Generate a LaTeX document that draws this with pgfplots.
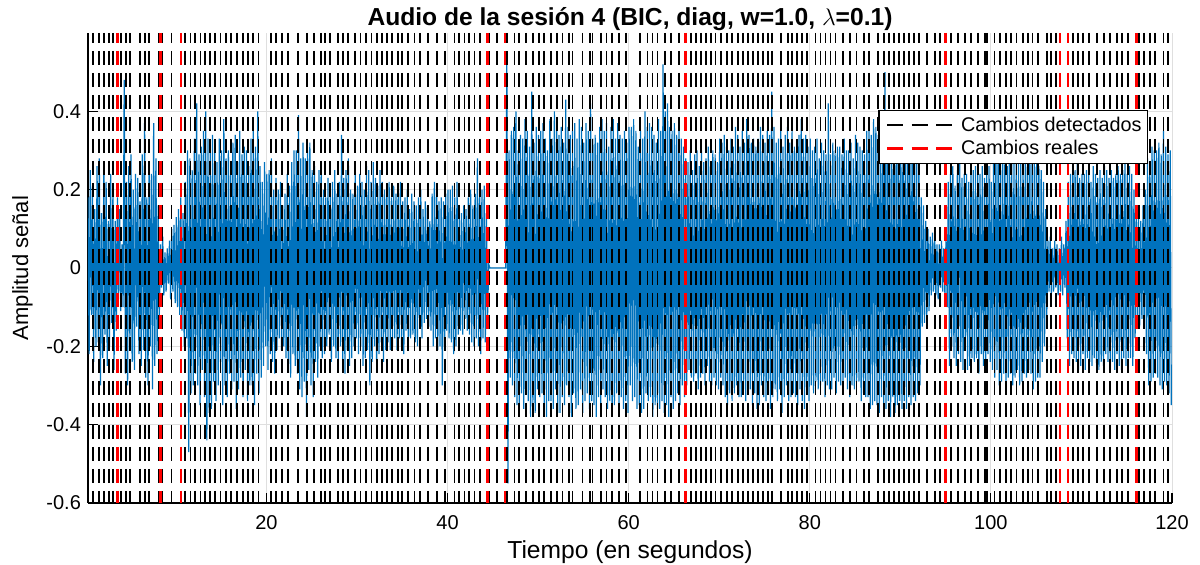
\documentclass[border=0pt]{standalone}
\usepackage{fontspec}
\setmainfont{Liberation Sans}
\usepackage{pgfplots}
\usepackage{pgfplotstable}
\pgfplotsset{compat=1.18}
\definecolor{mblue}{RGB}{0,114,189}
\definecolor{mgrid}{RGB}{223,223,223}
\pgfplotstableread[row sep=\\, header=false]{
0.18\\ -0.22\\ 0.25\\ -0.12\\ 0.21\\ -0.24\\ 0.15\\ -0.2\\
0.26\\ -0.19\\ 0.28\\ -0.3\\ 0.14\\ -0.23\\ 0.27\\ -0.17\\
0.22\\ -0.25\\ 0.12\\ -0.2\\ 0.24\\ -0.14\\ 0.19\\ -0.26\\
0.12\\ -0.16\\ 0.18\\ -0.08\\ 0.15\\ -0.11\\ 0.06\\ -0.1\\
0.48\\ -0.27\\ 0.22\\ -0.3\\ 0.26\\ -0.18\\ 0.29\\ -0.24\\
0.2\\ -0.26\\ 0.24\\ -0.15\\ 0.23\\ -0.22\\ 0.17\\ -0.25\\
0.29\\ -0.21\\ 0.37\\ -0.28\\ 0.18\\ -0.3\\ 0.26\\ -0.2\\
0.24\\ -0.31\\ 0.37\\ -0.25\\ 0.28\\ -0.22\\ 0.16\\ -0.12\\
0.06\\ -0.05\\ 0.08\\ -0.07\\ 0.04\\ -0.06\\ 0.05\\ -0.04\\
0.07\\ -0.08\\ 0.1\\ -0.06\\ 0.11\\ -0.09\\ 0.13\\ -0.1\\
0.15\\ -0.12\\ 0.18\\ -0.16\\ 0.14\\ -0.2\\ 0.22\\ -0.18\\
0.3\\ -0.47\\ 0.28\\ -0.32\\ 0.25\\ -0.3\\ 0.33\\ -0.27\\
0.42\\ -0.3\\ 0.29\\ -0.35\\ 0.31\\ -0.26\\ 0.35\\ -0.33\\
0.4\\ -0.44\\ 0.33\\ -0.37\\ 0.3\\ -0.36\\ 0.34\\ -0.29\\
0.31\\ -0.34\\ 0.27\\ -0.3\\ 0.33\\ -0.24\\ 0.3\\ -0.35\\
0.38\\ -0.3\\ 0.28\\ -0.33\\ 0.3\\ -0.27\\ 0.25\\ -0.31\\
0.32\\ -0.29\\ 0.34\\ -0.36\\ 0.27\\ -0.31\\ 0.35\\ -0.28\\
0.29\\ -0.33\\ 0.31\\ -0.26\\ 0.3\\ -0.34\\ 0.26\\ -0.3\\
0.33\\ -0.3\\ 0.36\\ -0.35\\ 0.31\\ -0.27\\ 0.4\\ -0.32\\
0.26\\ -0.28\\ 0.22\\ -0.25\\ 0.27\\ -0.2\\ 0.24\\ -0.26\\
0.25\\ -0.22\\ 0.28\\ -0.24\\ 0.2\\ -0.27\\ 0.23\\ -0.21\\
0.2\\ -0.18\\ 0.22\\ -0.21\\ 0.16\\ -0.2\\ 0.19\\ -0.23\\
0.24\\ -0.26\\ 0.21\\ -0.28\\ 0.27\\ -0.22\\ 0.3\\ -0.25\\
0.3\\ -0.27\\ 0.39\\ -0.31\\ 0.28\\ -0.33\\ 0.32\\ -0.29\\
0.28\\ -0.38\\ 0.3\\ -0.26\\ 0.32\\ -0.3\\ 0.25\\ -0.33\\
0.26\\ -0.24\\ 0.22\\ -0.28\\ 0.25\\ -0.2\\ 0.27\\ -0.23\\
0.2\\ -0.22\\ 0.18\\ -0.2\\ 0.23\\ -0.17\\ 0.21\\ -0.24\\
0.22\\ -0.2\\ 0.25\\ -0.23\\ 0.19\\ -0.24\\ 0.22\\ -0.2\\
0.34\\ -0.24\\ 0.23\\ -0.27\\ 0.25\\ -0.21\\ 0.28\\ -0.25\\
0.2\\ -0.23\\ 0.19\\ -0.2\\ 0.24\\ -0.18\\ 0.21\\ -0.22\\
0.24\\ -0.2\\ 0.22\\ -0.25\\ 0.2\\ -0.23\\ 0.26\\ -0.21\\
0.25\\ -0.3\\ 0.22\\ -0.24\\ 0.27\\ -0.2\\ 0.23\\ -0.26\\
0.21\\ -0.22\\ 0.25\\ -0.19\\ 0.22\\ -0.24\\ 0.2\\ -0.21\\
0.2\\ -0.19\\ 0.22\\ -0.21\\ 0.18\\ -0.2\\ 0.21\\ -0.18\\
0.19\\ -0.21\\ 0.2\\ -0.18\\ 0.22\\ -0.2\\ 0.17\\ -0.22\\
0.18\\ -0.16\\ 0.2\\ -0.19\\ 0.15\\ -0.18\\ 0.19\\ -0.17\\
0.17\\ -0.19\\ 0.16\\ -0.2\\ 0.18\\ -0.15\\ 0.2\\ -0.18\\
0.15\\ -0.14\\ 0.17\\ -0.13\\ 0.16\\ -0.15\\ 0.12\\ -0.16\\
0.19\\ -0.2\\ 0.22\\ -0.18\\ 0.2\\ -0.21\\ 0.17\\ -0.2\\
0.18\\ -0.3\\ 0.17\\ -0.2\\ 0.19\\ -0.16\\ 0.2\\ -0.18\\
0.2\\ -0.19\\ 0.21\\ -0.22\\ 0.18\\ -0.2\\ 0.22\\ -0.17\\
0.15\\ -0.16\\ 0.14\\ -0.17\\ 0.16\\ -0.13\\ 0.15\\ -0.16\\
0.18\\ -0.17\\ 0.2\\ -0.19\\ 0.16\\ -0.2\\ 0.19\\ -0.18\\
0.28\\ -0.2\\ 0.19\\ -0.22\\ 0.2\\ -0.18\\ 0.21\\ -0.19\\
0.14\\ -0.12\\ 0.01\\ 0\\ 0\\ 0\\ 0\\ 0\\
0\\ 0\\ 0\\ 0\\ 0\\ 0\\ 0\\ 0\\
0\\ 0\\ 0.55\\ -0.55\\ 0.3\\ -0.28\\ 0.35\\ -0.3\\
0.36\\ -0.33\\ 0.4\\ -0.35\\ 0.3\\ -0.37\\ 0.34\\ -0.32\\
0.33\\ -0.36\\ 0.38\\ -0.3\\ 0.35\\ -0.34\\ 0.31\\ -0.38\\
0.45\\ -0.35\\ 0.32\\ -0.37\\ 0.36\\ -0.31\\ 0.34\\ -0.33\\
0.35\\ -0.32\\ 0.37\\ -0.36\\ 0.33\\ -0.38\\ 0.3\\ -0.34\\
0.38\\ -0.34\\ 0.33\\ -0.36\\ 0.4\\ -0.31\\ 0.35\\ -0.37\\
0.34\\ -0.37\\ 0.36\\ -0.33\\ 0.32\\ -0.35\\ 0.43\\ -0.3\\
0.36\\ -0.33\\ 0.34\\ -0.38\\ 0.35\\ -0.32\\ 0.37\\ -0.36\\
0.33\\ -0.35\\ 0.38\\ -0.31\\ 0.36\\ -0.37\\ 0.32\\ -0.34\\
0.37\\ -0.32\\ 0.35\\ -0.36\\ 0.42\\ -0.34\\ 0.33\\ -0.35\\
0.34\\ -0.38\\ 0.32\\ -0.33\\ 0.36\\ -0.35\\ 0.38\\ -0.31\\
0.35\\ -0.33\\ 0.37\\ -0.36\\ 0.31\\ -0.34\\ 0.36\\ -0.37\\
0.38\\ -0.35\\ 0.33\\ -0.32\\ 0.37\\ -0.36\\ 0.34\\ -0.33\\
0.33\\ -0.36\\ 0.35\\ -0.34\\ 0.32\\ -0.37\\ 0.36\\ -0.3\\
0.36\\ -0.34\\ 0.38\\ -0.33\\ 0.35\\ -0.36\\ 0.31\\ -0.35\\
0.35\\ -0.37\\ 0.33\\ -0.36\\ 0.4\\ -0.32\\ 0.36\\ -0.34\\
0.37\\ -0.33\\ 0.36\\ -0.38\\ 0.34\\ -0.35\\ 0.32\\ -0.36\\
0.38\\ -0.36\\ 0.35\\ -0.34\\ 0.52\\ -0.37\\ 0.4\\ -0.35\\
0.42\\ -0.38\\ 0.36\\ -0.33\\ 0.35\\ -0.36\\ 0.37\\ -0.34\\
0.34\\ -0.32\\ 0.36\\ -0.35\\ 0.33\\ -0.3\\ 0.31\\ -0.33\\
0.28\\ -0.3\\ 0.27\\ -0.26\\ 0.3\\ -0.28\\ 0.25\\ -0.29\\
0.29\\ -0.27\\ 0.3\\ -0.31\\ 0.26\\ -0.28\\ 0.3\\ -0.27\\
0.27\\ -0.3\\ 0.28\\ -0.25\\ 0.31\\ -0.29\\ 0.26\\ -0.3\\
0.3\\ -0.28\\ 0.29\\ -0.3\\ 0.27\\ -0.31\\ 0.33\\ -0.28\\
0.32\\ -0.3\\ 0.34\\ -0.33\\ 0.31\\ -0.35\\ 0.3\\ -0.32\\
0.33\\ -0.34\\ 0.31\\ -0.32\\ 0.36\\ -0.3\\ 0.34\\ -0.33\\
0.31\\ -0.33\\ 0.35\\ -0.31\\ 0.32\\ -0.34\\ 0.38\\ -0.3\\
0.34\\ -0.31\\ 0.32\\ -0.35\\ 0.33\\ -0.32\\ 0.31\\ -0.36\\
0.33\\ -0.35\\ 0.36\\ -0.3\\ 0.34\\ -0.33\\ 0.32\\ -0.34\\
0.35\\ -0.32\\ 0.34\\ -0.36\\ 0.45\\ -0.33\\ 0.36\\ -0.31\\
0.32\\ -0.34\\ 0.33\\ -0.31\\ 0.35\\ -0.37\\ 0.31\\ -0.33\\
0.34\\ -0.3\\ 0.36\\ -0.34\\ 0.32\\ -0.33\\ 0.35\\ -0.32\\
0.31\\ -0.33\\ 0.32\\ -0.35\\ 0.34\\ -0.31\\ 0.38\\ -0.34\\
0.33\\ -0.36\\ 0.34\\ -0.32\\ 0.31\\ -0.34\\ 0.33\\ -0.3\\
0.3\\ -0.32\\ 0.31\\ -0.29\\ 0.33\\ -0.31\\ 0.28\\ -0.3\\
0.32\\ -0.29\\ 0.3\\ -0.33\\ 0.29\\ -0.3\\ 0.42\\ -0.31\\
0.29\\ -0.31\\ 0.32\\ -0.28\\ 0.3\\ -0.32\\ 0.31\\ -0.29\\
0.31\\ -0.3\\ 0.29\\ -0.32\\ 0.33\\ -0.28\\ 0.3\\ -0.31\\
0.3\\ -0.33\\ 0.32\\ -0.3\\ 0.28\\ -0.31\\ 0.34\\ -0.29\\
0.32\\ -0.29\\ 0.31\\ -0.34\\ 0.3\\ -0.32\\ 0.29\\ -0.33\\
0.35\\ -0.33\\ 0.37\\ -0.36\\ 0.34\\ -0.35\\ 0.38\\ -0.34\\
0.36\\ -0.35\\ 0.34\\ -0.37\\ 0.4\\ -0.33\\ 0.36\\ -0.35\\
0.5\\ -0.36\\ 0.37\\ -0.34\\ 0.35\\ -0.38\\ 0.36\\ -0.33\\
0.34\\ -0.37\\ 0.36\\ -0.35\\ 0.38\\ -0.34\\ 0.33\\ -0.36\\
0.37\\ -0.34\\ 0.35\\ -0.36\\ 0.34\\ -0.33\\ 0.39\\ -0.35\\
0.35\\ -0.33\\ 0.36\\ -0.34\\ 0.3\\ -0.32\\ 0.28\\ -0.3\\
0.18\\ -0.15\\ 0.16\\ -0.14\\ 0.12\\ -0.13\\ 0.1\\ -0.11\\
0.08\\ -0.07\\ 0.09\\ -0.06\\ 0.08\\ -0.07\\ 0.06\\ -0.08\\
0.06\\ -0.05\\ 0.07\\ -0.06\\ 0.05\\ -0.07\\ 0.08\\ -0.1\\
0.22\\ -0.25\\ 0.24\\ -0.2\\ 0.26\\ -0.23\\ 0.21\\ -0.25\\
0.25\\ -0.22\\ 0.35\\ -0.24\\ 0.23\\ -0.26\\ 0.24\\ -0.21\\
0.24\\ -0.26\\ 0.22\\ -0.25\\ 0.27\\ -0.23\\ 0.25\\ -0.24\\
0.26\\ -0.23\\ 0.25\\ -0.27\\ 0.24\\ -0.22\\ 0.26\\ -0.25\\
0.23\\ -0.25\\ 0.24\\ -0.22\\ 0.26\\ -0.24\\ 0.22\\ -0.26\\
0.27\\ -0.28\\ 0.29\\ -0.26\\ 0.28\\ -0.3\\ 0.27\\ -0.29\\
0.28\\ -0.27\\ 0.3\\ -0.29\\ 0.26\\ -0.28\\ 0.32\\ -0.27\\
0.29\\ -0.3\\ 0.27\\ -0.28\\ 0.3\\ -0.26\\ 0.28\\ -0.3\\
0.27\\ -0.29\\ 0.28\\ -0.27\\ 0.31\\ -0.28\\ 0.29\\ -0.26\\
0.3\\ -0.27\\ 0.29\\ -0.31\\ 0.28\\ -0.29\\ 0.27\\ -0.28\\
0.26\\ -0.28\\ 0.25\\ -0.24\\ 0.22\\ -0.2\\ 0.15\\ -0.12\\
0.07\\ -0.06\\ 0.08\\ -0.07\\ 0.05\\ -0.06\\ 0.07\\ -0.05\\
0.06\\ -0.07\\ 0.05\\ -0.06\\ 0.08\\ -0.07\\ 0.06\\ -0.05\\
0.12\\ -0.18\\ 0.22\\ -0.25\\ 0.24\\ -0.22\\ 0.26\\ -0.23\\
0.25\\ -0.24\\ 0.32\\ -0.26\\ 0.23\\ -0.25\\ 0.24\\ -0.22\\
0.24\\ -0.26\\ 0.25\\ -0.23\\ 0.26\\ -0.24\\ 0.22\\ -0.25\\
0.26\\ -0.23\\ 0.24\\ -0.25\\ 0.23\\ -0.26\\ 0.25\\ -0.24\\
0.23\\ -0.25\\ 0.26\\ -0.22\\ 0.25\\ -0.24\\ 0.23\\ -0.26\\
0.25\\ -0.24\\ 0.23\\ -0.26\\ 0.24\\ -0.22\\ 0.26\\ -0.25\\
0.24\\ -0.26\\ 0.25\\ -0.23\\ 0.27\\ -0.25\\ 0.24\\ -0.23\\
0.26\\ -0.23\\ 0.24\\ -0.25\\ 0.2\\ -0.18\\ 0.16\\ -0.14\\
0.14\\ -0.15\\ 0.12\\ -0.13\\ 0.16\\ -0.14\\ 0.2\\ -0.22\\
0.28\\ -0.3\\ 0.27\\ -0.29\\ 0.31\\ -0.28\\ 0.3\\ -0.27\\
0.3\\ -0.28\\ 0.32\\ -0.3\\ 0.29\\ -0.31\\ 0.35\\ -0.29\\
0.31\\ -0.3\\ 0.29\\ -0.32\\ 0.3\\ -0.35\\
}\sig
\pgfplotsset{
  detected/.style={black, line width=0.9pt, dash pattern=on 7pt off 4pt, dash phase=2pt},
  real/.style={red, line width=1.2pt, dash pattern=on 7pt off 4pt, dash phase=2pt},
}
\begin{document}
\begin{tikzpicture}
\begin{axis}[
  name=ax,
  scale only axis, width=542pt, height=235pt,
  xmin=0.3, xmax=120, ymin=-0.6, ymax=0.6,
  xtick={20,40,60,80,100,120},
  ytick={-0.6,-0.4,-0.2,0,0.2,0.4},
  yticklabels={-0.6,-0.4,-0.2,0,0.2,0.4},
  /pgf/number format/assume math mode=true,
  ticklabel style={font=\fontsize{10}{12}\selectfont},
  xticklabel style={yshift=-2.5pt},
  axis x line=bottom, axis y line=left,
  axis line style={-, black, line width=0.8pt},
  tick align=inside, major tick length=5pt,
  tick style={black, line width=0.6pt},
  grid=major, major grid style={mgrid, line width=0.5pt},
  xlabel={Tiempo (en segundos)}, ylabel={Amplitud señal},
  xlabel style={font=\fontsize{12.3}{14}\selectfont, yshift=1pt},
  ylabel style={font=\fontsize{11}{13}\selectfont},
  title={\textbf{Audio de la sesión 4 (BIC, diag, w=1.0, $\lambda$=0.1)}},
  title style={font=\fontsize{12.3}{14}\selectfont, yshift=-8.5pt},
  legend style={at={(0.978,0.836)}, anchor=north east, draw=black, line width=0.6pt,
    font=\fontsize{9.9}{10.5}\selectfont, legend cell align=left, inner sep=1pt, row sep=-1pt},
  legend image code/.code={\path[draw=none] (0pt,0pt) -- (38pt,0pt);
    \draw[#1, dash phase=0pt, dash pattern=on 8pt off 4.25pt] (3pt,0pt) -- (35.5pt,0pt);},
  clip=true,
]
\addplot[mblue, line width=0.6pt, forget plot] table[x expr=0.3+0.125*\coordindex, y index=0]{\sig};
\pgfplotsinvokeforeach{0.89,1.51,2.06,2.65,3.09,3.94,4.49,4.93,6.03,6.58,7.06,8.1,8.53,9.53,11.03,11.62,12.13,12.72,13.24,13.75,14.3,14.93,15.51,16.1,16.77,17.43,17.94,18.53,19.12,20.55,21.1,21.76,22.35,23.53,24.52,25.26,25.99,26.5,26.98,27.9,28.45,29.0,29.81,30.4,31.0,31.6,32.2,32.8,33.35,33.9,34.5,34.96,35.6,36.35,37.0,37.8,38.8,39.74,40.76,41.3,41.87,42.4,42.97,43.6,44.55,45.5,46.6,47.4,47.9,48.66,49.47,50.13,50.68,51.42,52.05,52.7,53.44,53.8,54.9,55.7,56.0,56.93,57.56,58.2,58.95,59.7,61.23,62.08,62.63,63.18,64.0,64.65,65.57,66.86,67.4,67.96,68.5,69.06,69.6,70.17,70.9,71.45,72.07,72.66,73.17,73.77,74.28,74.87,75.38,75.86,76.78,77.59,78.07,78.62,79.17,79.72,80.64,81.19,81.74,82.29,82.85,83.69,84.42,85.16,85.96,86.51,87.5,88.17,88.72,89.27,89.82,90.37,90.93,91.55,92.03,92.95,93.87,94.35,95.63,96.37,97.18,97.84,98.58,99.31,99.57,100.4,101.03,101.66,102.25,102.83,103.57,104.08,104.6,105.2,106.18,106.66,107.17,109.1,109.65,110.2,110.85,111.7,112.5,113.16,113.9,114.45,115.17,116.36,116.95,117.58,118.13,119.05,119.6}{
  \addplot[detected, forget plot] coordinates {(#1,0.6) (#1,-0.6)};
}
\pgfplotsinvokeforeach{3.55,8.3,10.55,44.4,46.35,66.3,94.97,107.65,108.5,116.1}{
  \addplot[real, forget plot] coordinates {(#1,0.6) (#1,-0.6)};
}
\addlegendimage{detected}
\addlegendentry{Cambios detectados}
\addlegendimage{real}
\addlegendentry{Cambios reales}
\end{axis}
\pgfresetboundingbox
\useasboundingbox ([xshift=-44pt,yshift=-31pt]ax.south west) rectangle ([xshift=14pt,yshift=16.5pt]ax.north east);
\end{tikzpicture}
\end{document}
